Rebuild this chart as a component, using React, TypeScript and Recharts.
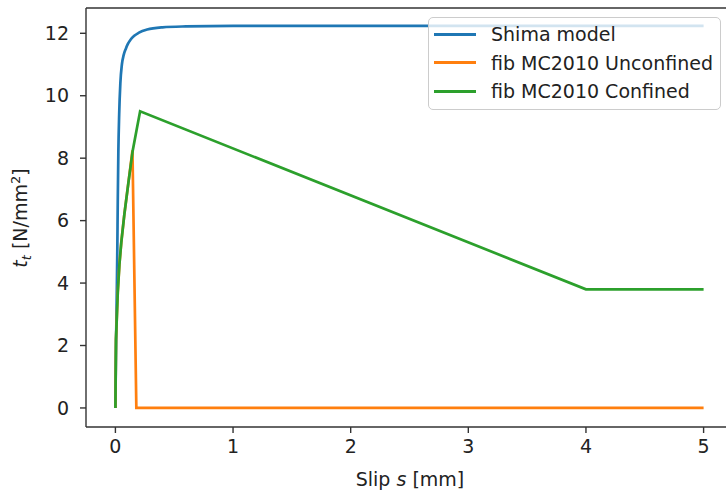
import React from "react";
import { Legend, Line, LineChart, ReferenceLine, XAxis, YAxis } from "recharts";

// slip s [mm] and bond stress [N/mm²]
const shimaSlip = [0, 0.004, 0.008, 0.012, 0.016, 0.02, 0.025, 0.032, 0.042, 0.055, 0.07, 0.088, 0.105, 0.13, 0.16, 0.2, 0.27, 0.4, 0.6, 1, 2, 3, 4, 5];
const shimaStress = [0, 1.6, 2.7, 3.8, 5.0, 6.6, 8.2, 9.4, 10.4, 11.0, 11.3, 11.5, 11.65, 11.8, 11.92, 12.02, 12.12, 12.19, 12.22, 12.24, 12.24, 12.24, 12.24, 12.24];

const unconfinedSlip = [0, 0.005, 0.02, 0.034, 0.05, 0.076, 0.11, 0.145, 0.178, 5];
const unconfinedStress = [0, 2.2, 3.7, 4.6, 5.3, 6.2, 7.2, 8.25, 0, 0];

const confinedSlip = [0, 0.005, 0.02, 0.034, 0.05, 0.076, 0.11, 0.147, 0.18, 0.21, 4, 5];
const confinedStress = [0, 2.2, 3.7, 4.6, 5.3, 6.2, 7.2, 8.24, 8.9, 9.5, 3.8, 3.8];

const xTicks = [0, 1, 2, 3, 4, 5];
const yTicks = [0, 2, 4, 6, 8, 10, 12];

const toPoints = (s: number[], t: number[]) => s.map((v, i) => ({ s: v, t: t[i] }));

const series = [
  { name: "Shima model", color: "#1f77b4", type: "monotone" as const, data: toPoints(shimaSlip, shimaStress) },
  { name: "fib MC2010 Unconfined", color: "#ff7f0e", type: "linear" as const, data: toPoints(unconfinedSlip, unconfinedStress) },
  { name: "fib MC2010 Confined", color: "#2ca02c", type: "linear" as const, data: toPoints(confinedSlip, confinedStress) },
];

const FONT = "'DejaVu Sans', sans-serif";
const FS = 19;
const TEXT = "#222";
const SPINE = "#333";

// matplotlib-style legend box, keeps the plotting order
function LegendBox() {
  return (
    <div
      style={{
        width: 293,
        height: 93,
        boxSizing: "border-box",
        border: "1.5px solid #ccc",
        borderRadius: 5,
        background: "rgba(255,255,255,0.8)",
        fontFamily: FONT,
        fontSize: FS,
        color: TEXT,
        paddingTop: 2,
      }}
    >
      {series.map((p) => (
        <div key={p.name} style={{ display: "flex", alignItems: "center", height: 28.5 }}>
          <div style={{ marginLeft: 5, width: 42, height: 2.7, background: p.color }} />
          <span style={{ marginLeft: 15, whiteSpace: "nowrap" }}>{p.name}</span>
        </div>
      ))}
    </div>
  );
}

export default function App() {
  return (
    <div style={{ position: "fixed", left: 0, top: 0, width: 726, height: 495, overflow: "hidden", background: "#fff" }}>
      <LineChart width={760} height={495} margin={{ top: 8, right: 27, bottom: 38, left: 0 }}>
        <XAxis
          dataKey="s"
          type="number"
          domain={[-0.25, 5.25]}
          ticks={xTicks}
          allowDataOverflow
          height={30}
          tickSize={6}
          tickMargin={7}
          tick={{ fontSize: FS, fontFamily: FONT, fill: TEXT }}
          axisLine={{ stroke: SPINE, strokeWidth: 1.4 }}
          tickLine={{ stroke: SPINE, strokeWidth: 1.4 }}
          label={{
            content: () => (
              <text x={410} y={486} textAnchor="middle" fontSize={FS} fontFamily={FONT} fill={TEXT}>
                Slip <tspan fontStyle="italic">s</tspan> [mm]
              </text>
            ),
          }}
        />
        <YAxis
          type="number"
          domain={[-0.61, 12.81]}
          ticks={yTicks}
          allowDataOverflow
          width={86}
          tickSize={6}
          tickMargin={11}
          tick={{ fontSize: FS, fontFamily: FONT, fill: TEXT }}
          axisLine={{ stroke: SPINE, strokeWidth: 1.4 }}
          tickLine={{ stroke: SPINE, strokeWidth: 1.4 }}
          label={{
            content: () => (
              <text x={27} y={218} transform="rotate(-90, 27, 218)" textAnchor="middle" fontSize={FS} fontFamily={FONT} fill={TEXT}>
                <tspan fontStyle="italic">t</tspan>
                <tspan fontStyle="italic" fontSize={13} dy={4}>t</tspan>
                <tspan dy={-4}> [N/mm</tspan>
                <tspan fontSize={13} dy={-7}>2</tspan>
                <tspan dy={7}>]</tspan>
              </text>
            ),
          }}
        />
        {/* top and right spines of the axes box */}
        <ReferenceLine y={12.81} stroke={SPINE} strokeWidth={1.4} />
        <ReferenceLine x={5.25} stroke={SPINE} strokeWidth={1.4} />
        {series.map((sr) => (
          <Line
            key={sr.name}
            data={sr.data}
            dataKey="t"
            name={sr.name}
            type={sr.type}
            stroke={sr.color}
            strokeWidth={2.7}
            dot={false}
            activeDot={false}
            isAnimationActive={false}
          />
        ))}
        <Legend
          layout="vertical"
          align="center"
          verticalAlign="middle"
          wrapperStyle={{ left: 428, top: 17, width: 293 }}
          content={() => <LegendBox />}
        />
      </LineChart>
    </div>
  );
}
